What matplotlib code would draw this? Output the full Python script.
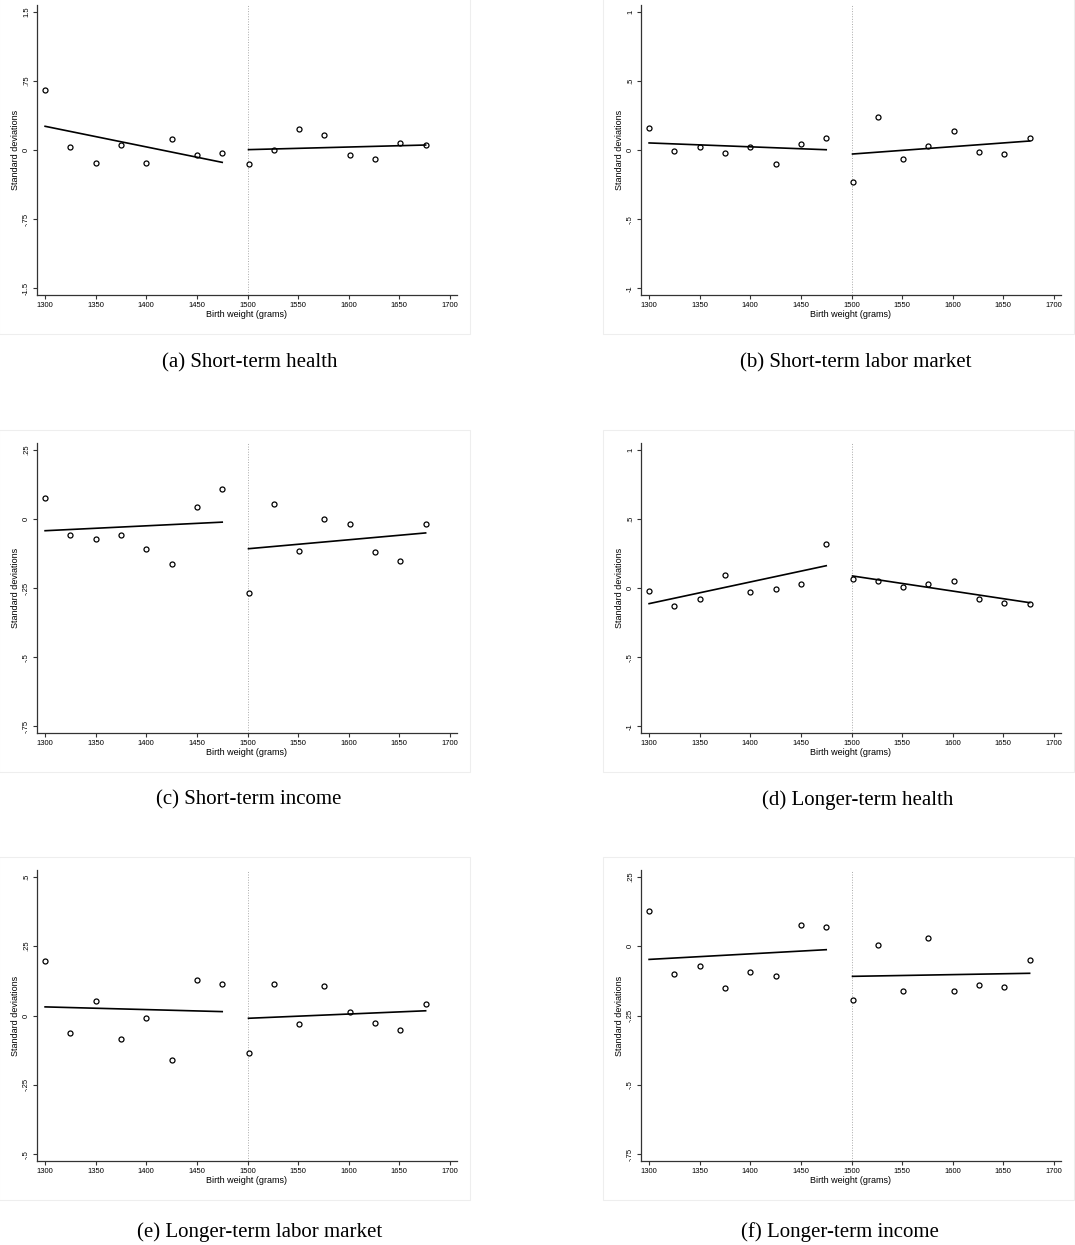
import matplotlib
matplotlib.use("Agg")
import matplotlib.pyplot as plt
from matplotlib.patches import Rectangle

plt.rcParams['font.family'] = ['Liberation Sans', 'DejaVu Sans']

# birth-weight bins on each side of the 1500 g cutoff
x_left = [1300, 1325, 1350, 1375, 1400, 1425, 1450, 1475]
x_right = [1501, 1526, 1551, 1576, 1601, 1626, 1651, 1676]

# binned means (standard deviations)
a_left = [0.647, 0.036, -0.137, 0.054, -0.137, 0.116, -0.058, -0.033]
a_right = [-0.155, 0.004, 0.224, 0.166, -0.051, -0.098, 0.072, 0.054]
b_left = [0.157, -0.005, 0.022, -0.024, 0.024, -0.104, 0.041, 0.089]
b_right = [-0.229, 0.239, -0.063, 0.027, 0.140, -0.017, -0.031, 0.087]
c_left = [0.077, -0.057, -0.072, -0.059, -0.108, -0.164, 0.043, 0.107]
c_right = [-0.267, 0.055, -0.116, -0.002, -0.018, -0.120, -0.153, -0.018]
d_left = [-0.019, -0.130, -0.082, 0.094, -0.029, -0.005, 0.031, 0.316]
d_right = [0.067, 0.048, 0.010, 0.027, 0.048, -0.077, -0.111, -0.116]
e_left = [0.197, -0.064, 0.053, -0.084, -0.010, -0.159, 0.129, 0.112]
e_right = [-0.134, 0.113, -0.030, 0.105, 0.011, -0.027, -0.054, 0.041]
f_left = [0.125, -0.100, -0.072, -0.151, -0.092, -0.109, 0.075, 0.068]
f_right = [-0.195, 0.004, -0.163, 0.030, -0.163, -0.140, -0.148, -0.051]

# linear fit end points (start, end) on each side
a_fit = [[0.257, -0.134], [0.004, 0.054]]
b_fit = [[0.051, 0.002], [-0.029, 0.065]]
c_fit = [[-0.043, -0.012], [-0.108, -0.051]]
d_fit = [[-0.113, 0.161], [0.087, -0.106]]
e_fit = [[0.031, 0.014], [-0.010, 0.017]]
f_fit = [[-0.048, -0.013], [-0.109, -0.098]]

# y ticks and labels
a_ticks = [-1.5, -0.75, 0, 0.75, 1.5]
a_labels = ['-1.5', '-.75', '0', '.75', '1.5']
b_ticks = [-1, -0.5, 0, 0.5, 1]
b_labels = ['-1', '-.5', '0', '.5', '1']
c_ticks = [-0.75, -0.5, -0.25, 0, 0.25]
c_labels = ['-.75', '-.5', '-.25', '0', '.25']
e_ticks = [-0.5, -0.25, 0, 0.25, 0.5]
e_labels = ['-.5', '-.25', '0', '.25', '.5']

x_ticks = [1300, 1350, 1400, 1450, 1500, 1550, 1600, 1650, 1700]

captions = ['(a) Short-term health', '(b) Short-term labor market',
            '(c) Short-term income', '(d) Longer-term health',
            '(e) Longer-term labor market', '(f) Longer-term income']

panels = [
    (a_left, a_right, a_fit, a_ticks, a_labels),
    (b_left, b_right, b_fit, b_ticks, b_labels),
    (c_left, c_right, c_fit, c_ticks, c_labels),
    (d_left, d_right, d_fit, b_ticks, b_labels),
    (e_left, e_right, e_fit, e_ticks, e_labels),
    (f_left, f_right, f_fit, c_ticks, c_labels),
]

W, H = 1075, 1245
fig = plt.figure(figsize=(W / 100, H / 100), dpi=100)

col_left = [37, 641]
row_px = [(5, 295), (443, 733), (870, 1161)]
cap_x = [250, 856, 249, 858, 260, 840]
cap_y = [363, 800, 1232]
axis_col = '#333333'

for i, (yl, yr, fit, ticks, labels) in enumerate(panels):
    r, c = divmod(i, 2)
    top, bot = row_px[r]
    x0 = col_left[c]

    # light graph-region frame
    fig.patches.append(Rectangle(((x0 - 38) / W, 1 - (bot + 39) / H),
                                 471 / W, (bot - top + 52) / H,
                                 transform=fig.transFigure, fill=False,
                                 edgecolor='#eeeeee', linewidth=0.8))

    ax = fig.add_axes([x0 / W, 1 - bot / H, 420 / W, (bot - top) / H])
    ax.axvline(1500, color='#aaaaaa', linestyle=':', linewidth=0.7)
    ax.plot(x_left, yl, 'o', mfc='white', mec='black', ms=3.6, mew=0.9)
    ax.plot(x_right, yr, 'o', mfc='white', mec='black', ms=3.6, mew=0.9)
    ax.plot([x_left[0], x_left[-1]], fit[0], color='black', linewidth=1.2)
    ax.plot([x_right[0], x_right[-1]], fit[1], color='black', linewidth=1.2)

    pad = 0.024 * (ticks[-1] - ticks[0])
    ax.set_ylim(ticks[0] - pad, ticks[-1] + pad)
    ax.set_xlim(1292, 1707)
    ax.set_yticks(ticks)
    ax.set_yticklabels(labels, rotation=90, va='center')
    ax.set_xticks(x_ticks)
    ax.tick_params(labelsize=5.5, length=3, width=0.8, color=axis_col, pad=2)
    for side in ['top', 'right']:
        ax.spines[side].set_visible(False)
    for side in ['left', 'bottom']:
        ax.spines[side].set_color(axis_col)
        ax.spines[side].set_linewidth(0.9)
    ax.set_xlabel('Birth weight (grams)', fontsize=6.5, labelpad=1)
    ax.set_ylabel('Standard deviations', fontsize=6.5, labelpad=2)

    fig.text(cap_x[i] / W, 1 - cap_y[r] / H, captions[i], ha='center', va='center',
             fontsize=15, family=['Liberation Serif', 'DejaVu Serif'])

fig.savefig('out.png', dpi=100, facecolor='white')
